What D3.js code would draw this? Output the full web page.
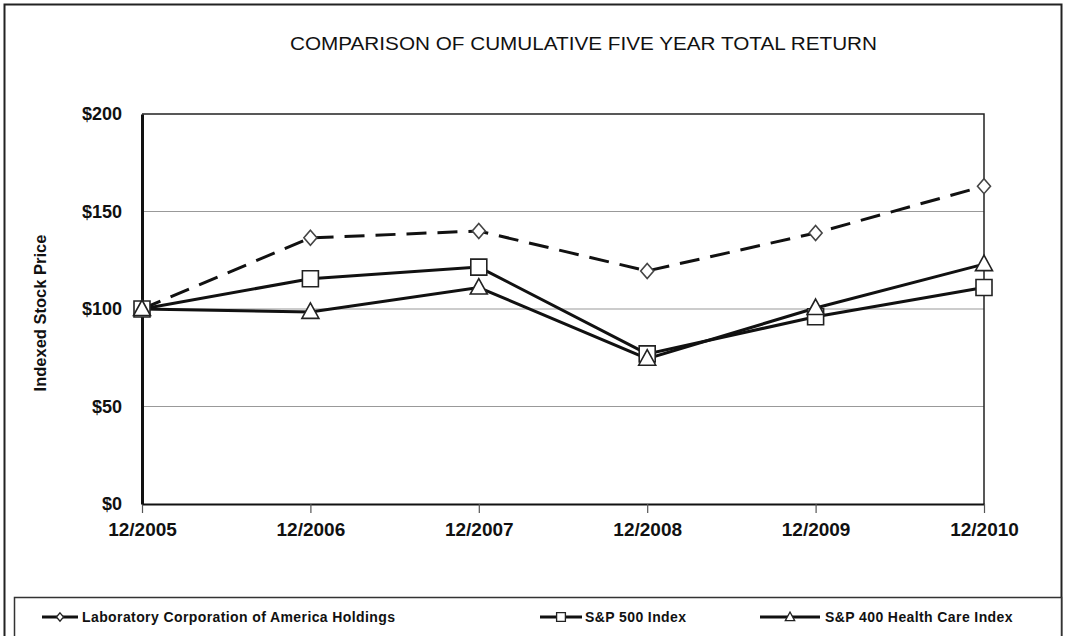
<!DOCTYPE html>
<html>
<head>
<meta charset="utf-8">
<script src="https://cdn.jsdelivr.net/npm/d3@7"></script>
<style>
  body { margin: 0; background: #fff; }
  text { font-family: "Liberation Sans", Arial, sans-serif; fill: #111; }
</style>
</head>
<body>
<div id="chart"></div>
<script>
const width = 1066;
const height = 636;

// data
const years = ["12/2005", "12/2006", "12/2007", "12/2008", "12/2009", "12/2010"];
const labcorp = [100, 136.5, 140, 119.5, 139, 163];
const sp500 = [100, 115.5, 121.5, 77, 96, 111];
const sp400hc = [100, 98.5, 111, 74.5, 100.5, 123];
const yTicks = [0, 50, 100, 150, 200];
const seriesNames = ["Laboratory Corporation of America Holdings", "S&P 500 Index", "S&P 400 Health Care Index"];

const margin = { left: 142, right: 82, top: 114, bottom: 132 };

const svg = d3.select("#chart").append("svg")
    .attr("width", width)
    .attr("height", height);

// outer frame
svg.append("rect")
    .attr("x", 4.5).attr("y", 4.5)
    .attr("width", 1057).attr("height", 640)
    .attr("fill", "none").attr("stroke", "#222").attr("stroke-width", 2);

const x = d3.scalePoint().domain(years).range([margin.left, width - margin.right]);
const y = d3.scaleLinear().domain([0, 200]).range([height - margin.bottom, margin.top]);

// grid lines
svg.selectAll(".grid")
    .data([50, 100, 150])
    .join("line")
    .attr("x1", margin.left).attr("x2", width - margin.right)
    .attr("y1", d => y(d)).attr("y2", d => y(d))
    .attr("stroke", "#999").attr("stroke-width", 1.2);

// plot frame (top + right)
svg.append("path")
    .attr("d", `M${margin.left},${y(200)}H${width - margin.right}V${y(0)}`)
    .attr("fill", "none").attr("stroke", "#222").attr("stroke-width", 1.5);

// x axis
const xAxis = svg.append("g")
    .attr("transform", `translate(0,${y(0)})`)
    .call(d3.axisBottom(x).tickSizeInner(9).tickSizeOuter(0).tickPadding(10));
xAxis.select(".domain").attr("stroke", "#111").attr("stroke-width", 2);
xAxis.selectAll(".tick line").attr("stroke", "#555").attr("stroke-width", 1.2);
xAxis.selectAll("text")
    .attr("font-size", 19).attr("font-weight", "bold")
    .attr("font-family", "Liberation Sans, Arial, sans-serif").attr("fill", "#222");

// y axis
const yAxis = svg.append("g")
    .attr("transform", `translate(${margin.left},0)`)
    .call(d3.axisLeft(y).tickValues(yTicks).tickSize(0).tickPadding(20).tickFormat(d => "$" + d));
yAxis.select(".domain").attr("stroke", "#111").attr("stroke-width", 3);
yAxis.selectAll("text")
    .attr("font-size", 18).attr("font-weight", "bold")
    .attr("font-family", "Liberation Sans, Arial, sans-serif").attr("fill", "#222");

svg.append("text")
    .attr("transform", `translate(46,${(y(0) + y(200)) / 2 + 4}) rotate(-90)`)
    .attr("text-anchor", "middle")
    .attr("font-size", 16.5).attr("font-weight", "bold")
    .text("Indexed Stock Price");

// title
svg.append("text")
    .attr("x", 290).attr("y", 50)
    .attr("textLength", 587).attr("lengthAdjust", "spacingAndGlyphs")
    .attr("font-size", 18)
    .text("COMPARISON OF CUMULATIVE FIVE YEAR TOTAL RETURN");

const line = d3.line().x((d, i) => x(years[i])).y(d => y(d));

const series = [
    { values: labcorp, dash: "20,11", marker: "diamond" },
    { values: sp500, dash: null, marker: "square" },
    { values: sp400hc, dash: null, marker: "triangle" }
];

const symbolPath = {
    diamond: "M0,-7.5L6.5,0L0,7.5L-6.5,0Z",
    square: "M-8,-8H8V8H-8Z",
    triangle: "M0,-9L8.5,6.5H-8.5Z"
};

series.forEach(s => {
    svg.append("path")
        .datum(s.values)
        .attr("d", line)
        .attr("fill", "none")
        .attr("stroke", "#111")
        .attr("stroke-width", 3)
        .attr("stroke-dasharray", s.dash);
});

series.forEach(s => {
    svg.selectAll(null)
        .data(s.values)
        .join("path")
        .attr("transform", (d, i) => `translate(${x(years[i])},${y(d)})`)
        .attr("d", symbolPath[s.marker])
        .attr("fill", "#fff")
        .attr("stroke", s.marker === "diamond" ? "#444" : "#222")
        .attr("stroke-width", 1.6);
});

// legend
const legend = svg.append("g");
legend.append("rect")
    .attr("x", 14.5).attr("y", 597.5)
    .attr("width", 1047).attr("height", 40)
    .attr("fill", "#fff").attr("stroke", "#333").attr("stroke-width", 1.5);

const legendItems = [
    { x: 42, len: 36, textX: 40 },
    { x: 540, len: 42, textX: 45 },
    { x: 760, len: 60, textX: 65 }
];
const legendMarkers = ["diamond", "square", "triangle"];
seriesNames.forEach((name, i) => {
    const it = legendItems[i];
    const g = legend.append("g").attr("transform", `translate(${it.x},617)`);
    g.append("line").attr("x1", 0).attr("x2", it.len)
        .attr("stroke", "#111").attr("stroke-width", 3);
    g.append("path")
        .attr("transform", `translate(${it.len / 2},0) scale(0.55)`)
        .attr("d", symbolPath[legendMarkers[i]])
        .attr("fill", "#fff").attr("stroke", "#222").attr("stroke-width", 2.4);
    g.append("text")
        .attr("x", it.textX).attr("y", 5)
        .attr("font-size", 14).attr("font-weight", "bold")
        .attr("letter-spacing", 0.4)
        .text(name);
});
</script>
</body>
</html>
